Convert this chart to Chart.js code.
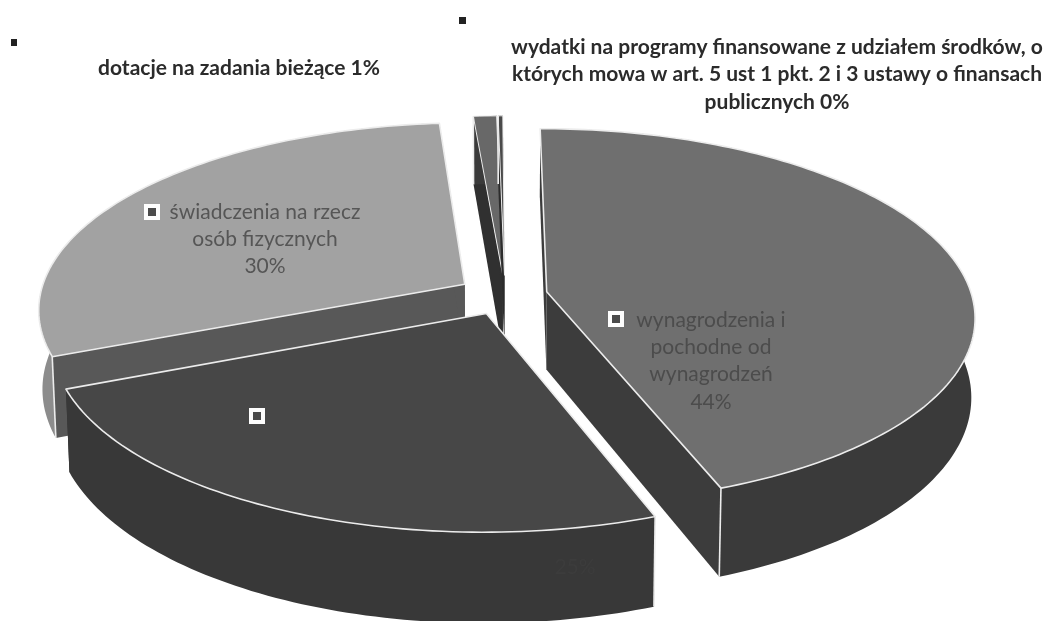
<!DOCTYPE html>
<html>
<head>
<meta charset="utf-8">
<style>
  html, body { margin: 0; padding: 0; background: #fff; }
  canvas { display: block; filter: blur(0.4px); }
</style>
<script src="https://cdn.jsdelivr.net/npm/chart.js@4/dist/chart.umd.js"></script>
</head>
<body>
<canvas id="pie" width="1058" height="621"></canvas>
<script>
const categories = [
  'wynagrodzenia i pochodne od wynagrodzeń',
  'zakup towarów i usług',
  'świadczenia na rzecz osób fizycznych',
  'dotacje na zadania bieżące',
  'wydatki na programy finansowane z udziałem środków'
];
const shares = [44.4, 24.5, 29.9, 1.0, 0.2];

// kolory: wierzch, sciana prosta, sciana luku
const topColors = ['#6f6f6f', '#474747', '#a2a2a2', '#686868', '#4a4a4a'];
const wallColors = ['#3c3c3c', '#353535', '#585858', '#303030', '#2c2c2c'];
const rimColors = ['#3a3a3a', '#383838', '#8c8c8c', '#3a3a3a', '#2c2c2c'];
// wysuniecie kawalkow
const explodeBy = [0.1, 0.108, 0.112, 0.108, 0.108];
// kolejnosc malowania, od tylu do przodu
const paintOrder = [2, 3, 4, 0, 1];

// rzut perspektywiczny
const view = { cx: 505, cy: 295, a: 425, b: 185, k: 0.13, height: 78 };

function project(X, Y, down) {
  const w = 1 - view.k * Y;
  let sx = view.cx + view.a * X / w;
  let sy = view.cy + view.b * Y / w;
  if (down) {
    sx = view.cx + (sx - view.cx) * 0.992;
    sy += view.height / w;
  }
  return [sx, sy];
}

function rimPoints(arc, explode, down) {
  const mid = (arc.startAngle + arc.endAngle) / 2;
  const ox = Math.cos(mid) * explode, oy = Math.sin(mid) * explode;
  const steps = Math.max(2, Math.ceil((arc.endAngle - arc.startAngle) / 0.02));
  const pts = [];
  for (let i = 0; i <= steps; i++) {
    const t = arc.startAngle + (arc.endAngle - arc.startAngle) * i / steps;
    pts.push(project(ox + Math.cos(t), oy + Math.sin(t), down));
  }
  return { pts, apex: project(ox, oy, down) };
}

function poly(ctx, pts, fill, stroke, lw) {
  ctx.beginPath();
  pts.forEach((p, i) => i ? ctx.lineTo(p[0], p[1]) : ctx.moveTo(p[0], p[1]));
  ctx.closePath();
  if (fill) { ctx.fillStyle = fill; ctx.fill(); }
  if (stroke) { ctx.strokeStyle = stroke; ctx.lineWidth = lw; ctx.stroke(); }
}

function drawSlice(ctx, arc, i) {
  const top = rimPoints(arc, explodeBy[i], false), low = rimPoints(arc, explodeBy[i], true);
  const n = top.pts.length - 1;
  // sciany proste
  poly(ctx, [top.apex, top.pts[0], low.pts[0], low.apex], wallColors[i]);
  poly(ctx, [top.apex, top.pts[n], low.pts[n], low.apex], wallColors[i]);
  // sciana luku
  poly(ctx, top.pts.concat(low.pts.slice().reverse()), rimColors[i]);
  // wierzch
  poly(ctx, [top.apex].concat(top.pts), topColors[i], '#ececec', i > 2 ? 1 : 1.6);
  // krawedz pionowa
  const edge = i === 0 ? n : 0;
  ctx.strokeStyle = '#ececec';
  ctx.lineWidth = 1.6;
  ctx.beginPath();
  ctx.moveTo(top.pts[edge][0], top.pts[edge][1]);
  ctx.lineTo(low.pts[edge][0], low.pts[edge][1]);
  ctx.stroke();
}

function marker(ctx, x, y, size) {
  ctx.fillStyle = '#fdfdfd';
  ctx.fillRect(x - size / 2, y - size / 2, size, size);
  ctx.fillStyle = '#4a4a4a';
  ctx.fillRect(x - size / 4, y - size / 4, size / 2, size / 2);
}

function textBlock(ctx, lines, x, y, step, font, color) {
  ctx.font = font;
  ctx.fillStyle = color;
  ctx.textAlign = 'center';
  ctx.textBaseline = 'middle';
  lines.forEach((l, i) => ctx.fillText(l, x, y + i * step));
}

const pie3d = {
  id: 'pie3d',
  // zwykle rysowanie zastepujemy rzutem 3D na katach z biblioteki
  beforeDatasetDraw(chart, args) {
    const ctx = chart.ctx;
    const arcs = chart.getDatasetMeta(args.index).data;
    ctx.save();
    ctx.lineJoin = 'round';
    paintOrder.forEach(i => drawSlice(ctx, arcs[i], i));
    ctx.restore();
    return false;
  },
  afterDraw(chart) {
    const ctx = chart.ctx;
    ctx.save();
    const bold = 'bold 21px Lato';
    textBlock(ctx, ['dotacje na zadania bieżące 1%'], 239, 68, 0, bold, '#2b2b2b');
    textBlock(ctx, ['wydatki na programy finansowane z udziałem środków, o',
      'których mowa w art. 5 ust 1 pkt. 2 i 3 ustawy o finansach', 'publicznych 0%'],
      777, 47, 27.5, bold, '#2b2b2b');
    textBlock(ctx, ['świadczenia na rzecz', 'osób fizycznych', '30%'], 265, 212, 27, '21px Lato', '#565656');
    textBlock(ctx, ['wynagrodzenia i', 'pochodne od', 'wynagrodzeń', '44%'], 711, 320, 27.3, '21px Lato', '#4c4c4c');
    textBlock(ctx, ['25%'], 575, 567, 0, '21px Lato', '#3c3c3c');
    marker(ctx, 152, 212, 16);
    marker(ctx, 257, 416, 16);
    marker(ctx, 616, 319, 16);
    ctx.fillStyle = '#222';
    ctx.fillRect(11, 39, 6, 7);
    ctx.fillRect(459, 17, 7, 7);
    ctx.restore();
  }
};

new Chart(document.getElementById('pie'), {
  type: 'pie',
  data: { labels: categories, datasets: [{ data: shares, backgroundColor: topColors }] },
  options: {
    responsive: false,
    animation: false,
    rotation: -0.27,
    plugins: { legend: { display: false }, tooltip: { enabled: false } }
  },
  plugins: [pie3d]
});
</script>
</body>
</html>
